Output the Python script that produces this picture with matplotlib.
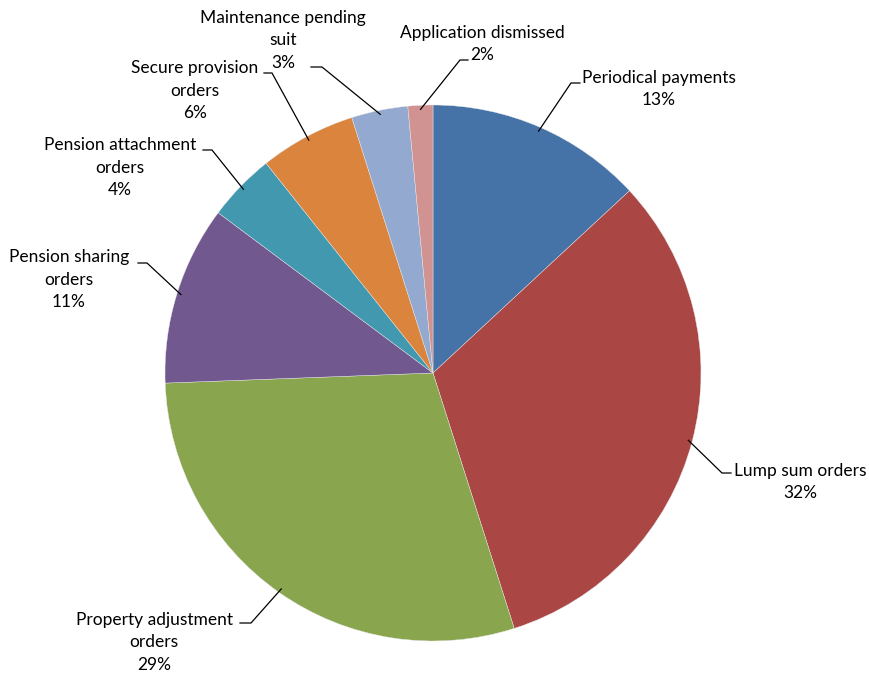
import numpy as np
import matplotlib.pyplot as plt

labels = ['Periodical payments', 'Lump sum orders', 'Property adjustment\norders',
          'Pension sharing\norders', 'Pension attachment\norders',
          'Secure provision\norders', 'Maintenance pending\nsuit', 'Application dismissed']
shares = [13.1, 32.0, 29.3, 10.8, 4.1, 5.8, 3.4, 1.5]
colors = ['#4572A7', '#AA4643', '#89A54E', '#71588F', '#4198AF', '#DB843D', '#93A9CF', '#D19392']

# label layout in pixels: block centre, elbow of the leader, end of the short tick
text_xy = [(659, 89), (800, 482), (154, 642), (69, 280), (120, 168), (195, 91), (283, 40), (482, 44)]
elbow_xy = [(571, 83), (722, 473), (251, 623), (147, 263), (212, 150), (272, 73), (322, 67), (460, 60)]
tick_xy = [(580, 83), (731, 473), (240, 623), (138, 263), (203, 150), (264, 73), (311, 67), (468, 60)]

W, H = 870, 678
cx, cy, R = 433, 373, 268

plt.rcParams['font.family'] = ['Lato', 'DejaVu Sans']

fig = plt.figure(figsize=(W / 100, H / 100), dpi=100)
ax = fig.add_axes([0, 0, 1, 1])

wedges, _ = ax.pie(shares, colors=colors, startangle=90, counterclock=False,
                   radius=1.0, wedgeprops=dict(linewidth=0.3, edgecolor='#e8e8e8'))
ax.set_xlim(-cx / R, (W - cx) / R)
ax.set_ylim(-(H - cy) / R, cy / R)
ax.axis('off')


def px(p):
    return ((p[0] - cx) / R, (cy - p[1]) / R)


for w, lab, val, t, e, k in zip(wedges, labels, shares, text_xy, elbow_xy, tick_xy):
    mid = np.radians((w.theta1 + w.theta2) / 2)
    start = (0.985 * np.cos(mid), 0.985 * np.sin(mid))
    e, k = px(e), px(k)
    ax.plot([start[0], e[0], k[0]], [start[1], e[1], k[1]], color='black', lw=0.9,
            solid_joinstyle='miter')
    ax.text(*px(t), f'{lab}\n{val:.0f}%', ha='center', va='center', fontsize=12.5,
            color='black', linespacing=1.5)

fig.savefig('out.png', dpi=100)
